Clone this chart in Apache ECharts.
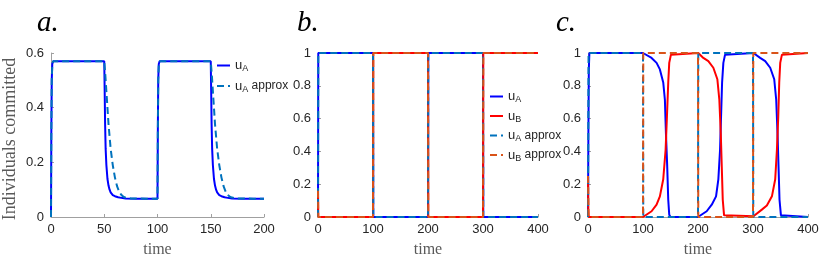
<!DOCTYPE html>
<html>
<head>
<meta charset="utf-8">
<script src="https://cdn.jsdelivr.net/npm/echarts@6/dist/echarts.min.js"></script>
<style>
html,body{margin:0;padding:0;background:#fff;}
#chart{width:831px;height:263px;}
</style>
</head>
<body>
<div id="chart"></div>
<script>
// ---------- Panel a ----------
const aTicksX = [0, 50, 100, 150, 200];
const aTicksY = [0, 0.2, 0.4, 0.6];
const aUA_t = [0, 0.3, 0.7, 1.2, 2, 50, 50.4, 50.8, 51.3, 52, 53, 54, 55, 56, 58, 60, 63, 66, 70, 80, 90, 100, 100.3, 100.7, 101.2, 102, 150, 150.4, 150.8, 151.3, 152, 153, 154, 155, 156, 158, 160, 163, 166, 170, 180, 190, 200];
const aUA_v = [0, 0.3, 0.5, 0.56, 0.57, 0.57, 0.46, 0.34, 0.25, 0.19, 0.14, 0.115, 0.1, 0.09, 0.08, 0.076, 0.072, 0.07, 0.068, 0.067, 0.067, 0.067, 0.3, 0.5, 0.56, 0.57, 0.57, 0.46, 0.34, 0.25, 0.19, 0.14, 0.115, 0.1, 0.09, 0.08, 0.076, 0.072, 0.07, 0.068, 0.067, 0.067, 0.067];
const aApx_t = [0, 0.3, 0.7, 1.2, 2, 50, 51, 52, 53, 54, 56, 58, 60, 62, 64, 66, 68, 70, 75, 90, 100, 100.3, 100.7, 101.2, 102, 150, 151, 152, 153, 154, 156, 158, 160, 162, 164, 166, 168, 170, 175, 190, 200];
const aApx_v = [0, 0.3, 0.5, 0.56, 0.57, 0.57, 0.52, 0.46, 0.4, 0.34, 0.25, 0.19, 0.145, 0.113, 0.093, 0.081, 0.074, 0.071, 0.068, 0.067, 0.067, 0.3, 0.5, 0.56, 0.57, 0.57, 0.52, 0.46, 0.4, 0.34, 0.25, 0.19, 0.145, 0.113, 0.093, 0.081, 0.074, 0.071, 0.068, 0.067, 0.067];

// ---------- Panel b ----------
const bTicksX = [0, 100, 200, 300, 400];
const bT = [0, 0.5, 100, 100.5, 200, 200.5, 300, 300.5, 400];
const bUA = [0, 1, 1, 0, 0, 1, 1, 0, 0];
const bUB = [0.16, 0, 0, 1, 1, 0, 0, 1, 1];
const bUAapx = [0, 1, 1, 0, 0, 1, 1, 0, 0];
const bUBapx = [0.16, 0, 0, 1, 1, 0, 0, 1, 1];

// ---------- Panel c ----------
const cTicksX = [0, 100, 200, 300, 400];
const cUA_t = [0, 0.7, 1.5, 2.5, 100, 103.4, 115.6, 124.7, 130.7, 136.8, 139.8, 141.7, 144, 145.9, 147.7, 150, 200, 203, 215.8, 225, 232.8, 237, 240.1, 241.9, 243.8, 246.1, 249.2, 252, 300.8, 313, 322.2, 331.3, 338.6, 342.2, 344.6, 346.4, 348.2, 350.8, 353, 400];
const cUA_v = [0, 0.5, 0.9, 1, 1, 0.99, 0.97, 0.94, 0.9, 0.82, 0.715, 0.51, 0.31, 0.105, 0.014, 0, 0, 0.005, 0.035, 0.075, 0.126, 0.23, 0.41, 0.61, 0.82, 0.94, 0.99, 1, 1, 0.97, 0.95, 0.91, 0.84, 0.715, 0.51, 0.31, 0.105, 0.01, 0, 0];
const cUB_t = [0, 0.6, 1.2, 100, 103.4, 115.6, 124.7, 130.7, 136.8, 141.1, 143.5, 145.9, 147.7, 150.8, 153, 200.5, 209.7, 218.8, 227.9, 235.2, 238.8, 241.4, 243.2, 245, 247.4, 250, 300.8, 316.1, 325.2, 334.4, 340.4, 343.5, 345.9, 347.7, 349.5, 352.6, 355, 400];
const cUB_v = [0.25, 0.05, 0, 0, 0.005, 0.035, 0.075, 0.126, 0.23, 0.41, 0.61, 0.82, 0.94, 0.99, 1, 1, 0.97, 0.95, 0.91, 0.84, 0.715, 0.51, 0.31, 0.105, 0.01, 0, 0.005, 0.045, 0.07, 0.126, 0.23, 0.41, 0.61, 0.82, 0.94, 0.99, 1, 1];
const cApx_t = [0, 1, 100, 100.5, 200, 200.5, 300, 300.5, 400];
const cUAapx = [0, 1, 1, 0, 0, 1, 1, 0, 0];
const cUBapx = [0.25, 0, 0, 1, 1, 0, 0, 1, 1];

function zip(t, v) { return t.map((x, i) => [x, v[i]]); }

const BLUE = '#0000ff', RED = '#ff0000', DBLUE = '#0072BD', DORANGE = '#D95319';
const SANS = '"Liberation Sans", Arial, Helvetica, sans-serif';
const SERIF = '"Liberation Serif", "DejaVu Serif", serif';

const grids = [
  {left: 43, top: 53, width: 221, height: 164},
  {left: 318, top: 53, width: 220, height: 164},
  {left: 588, top: 53, width: 220, height: 164}
];

function xAx(i, max, interval) {
  return {
    type: 'value', gridIndex: i, min: 0, max: max, interval: interval,
    name: 'time', nameLocation: 'middle', nameGap: 25,
    nameTextStyle: {fontFamily: SERIF, fontSize: 16, color: '#5a5a5a'},
    axisLine: {show: true, lineStyle: {color: '#a0a0a0', width: 1}},
    axisTick: {show: true, inside: true, length: 3, lineStyle: {color: '#a0a0a0'}},
    axisLabel: {fontFamily: SANS, fontSize: 13, color: '#262626', margin: 6},
    splitLine: {show: false}
  };
}
function yAx(i, max, interval, name) {
  return {
    type: 'value', gridIndex: i, min: 0, max: max, interval: interval,
    name: name || '', nameLocation: 'middle', nameGap: 32, nameRotate: 90,
    nameTextStyle: {fontFamily: SERIF, fontSize: 18, color: '#5a5a5a', padding: [0, 8, 0, 0]},
    axisLine: {show: true, lineStyle: {color: '#a0a0a0', width: 1}},
    axisTick: {show: true, inside: true, length: 3, lineStyle: {color: '#a0a0a0'}},
    axisLabel: {fontFamily: SANS, fontSize: 13, color: '#262626', margin: 7},
    splitLine: {show: false}
  };
}
function line(name, i, data, color, dashed) {
  return {
    name: name, type: 'line', xAxisIndex: i, yAxisIndex: i, data: data,
    showSymbol: false, symbol: 'none', clip: false, animation: false,
    lineStyle: {color: color, width: 2, type: dashed ? [7, 4] : 'solid'},
    itemStyle: {color: color}
  };
}

const rich = {
  u: {fontFamily: SANS, fontSize: 13, color: '#262626', lineHeight: 16, verticalAlign: 'middle'},
  s: {fontFamily: SANS, fontSize: 9, color: '#262626', lineHeight: 8, verticalAlign: 'bottom'},
  t: {fontFamily: SANS, fontSize: 12, color: '#262626', lineHeight: 16, verticalAlign: 'middle'}
};
function fmt(name) {
  const n = name.split(':')[1];
  const letter = n[1];
  const rest = n.slice(2);
  return '{u|u}{s|' + letter + '}' + (rest ? '{t|' + rest + '}' : '');
}
const hiddenSymbol = {color: 'rgba(0,0,0,0)', borderColor: 'rgba(0,0,0,0)', borderWidth: 0, opacity: 0};

const option = {
  animation: false,
  backgroundColor: '#fff',
  title: [
    {text: 'a.', left: 32, top: 4, textStyle: {fontFamily: SERIF, fontStyle: 'italic', fontWeight: 'normal', fontSize: 29, color: '#000'}},
    {text: 'b.', left: 292, top: 4, textStyle: {fontFamily: SERIF, fontStyle: 'italic', fontWeight: 'normal', fontSize: 29, color: '#000'}},
    {text: 'c.', left: 551, top: 4, textStyle: {fontFamily: SERIF, fontStyle: 'italic', fontWeight: 'normal', fontSize: 29, color: '#000'}}
  ],
  legend: [
    {data: ['a:uA', 'a:uA approx'], orient: 'vertical', left: 216, top: 59, padding: 0,
     itemWidth: 13, itemHeight: 10, itemGap: 6, formatter: fmt, textStyle: {rich: rich}, selectedMode: false,
     itemStyle: hiddenSymbol},
    {data: ['b:uA', 'b:uB', 'b:uA approx', 'b:uB approx'], orient: 'vertical', left: 489, top: 90, padding: 0,
     itemWidth: 13, itemHeight: 10, itemGap: 5, formatter: fmt, textStyle: {rich: rich}, selectedMode: false,
     itemStyle: hiddenSymbol}
  ],
  grid: grids,
  xAxis: [xAx(0, 200, 50), xAx(1, 400, 100), xAx(2, 400, 100)],
  yAxis: [yAx(0, 0.6, 0.2, 'Individuals committed'), yAx(1, 1, 0.2), yAx(2, 1, 0.2)],
  series: [
    line('a:uA', 0, zip(aUA_t, aUA_v), BLUE, false),
    line('a:uA approx', 0, zip(aApx_t, aApx_v), DBLUE, true),
    line('b:uA', 1, zip(bT, bUA), BLUE, false),
    line('b:uB', 1, zip(bT, bUB), RED, false),
    line('b:uA approx', 1, zip(bT, bUAapx), DBLUE, true),
    line('b:uB approx', 1, zip(bT, bUBapx), DORANGE, true),
    line('c:uA', 2, zip(cUA_t, cUA_v), BLUE, false),
    line('c:uB', 2, zip(cUB_t, cUB_v), RED, false),
    line('c:uA approx', 2, zip(cApx_t, cUAapx), DBLUE, true),
    line('c:uB approx', 2, zip(cApx_t, cUBapx), DORANGE, true)
  ]
};

const chart = echarts.init(document.getElementById('chart'), null, {renderer: 'canvas'});
chart.setOption(option);
</script>
</body>
</html>
